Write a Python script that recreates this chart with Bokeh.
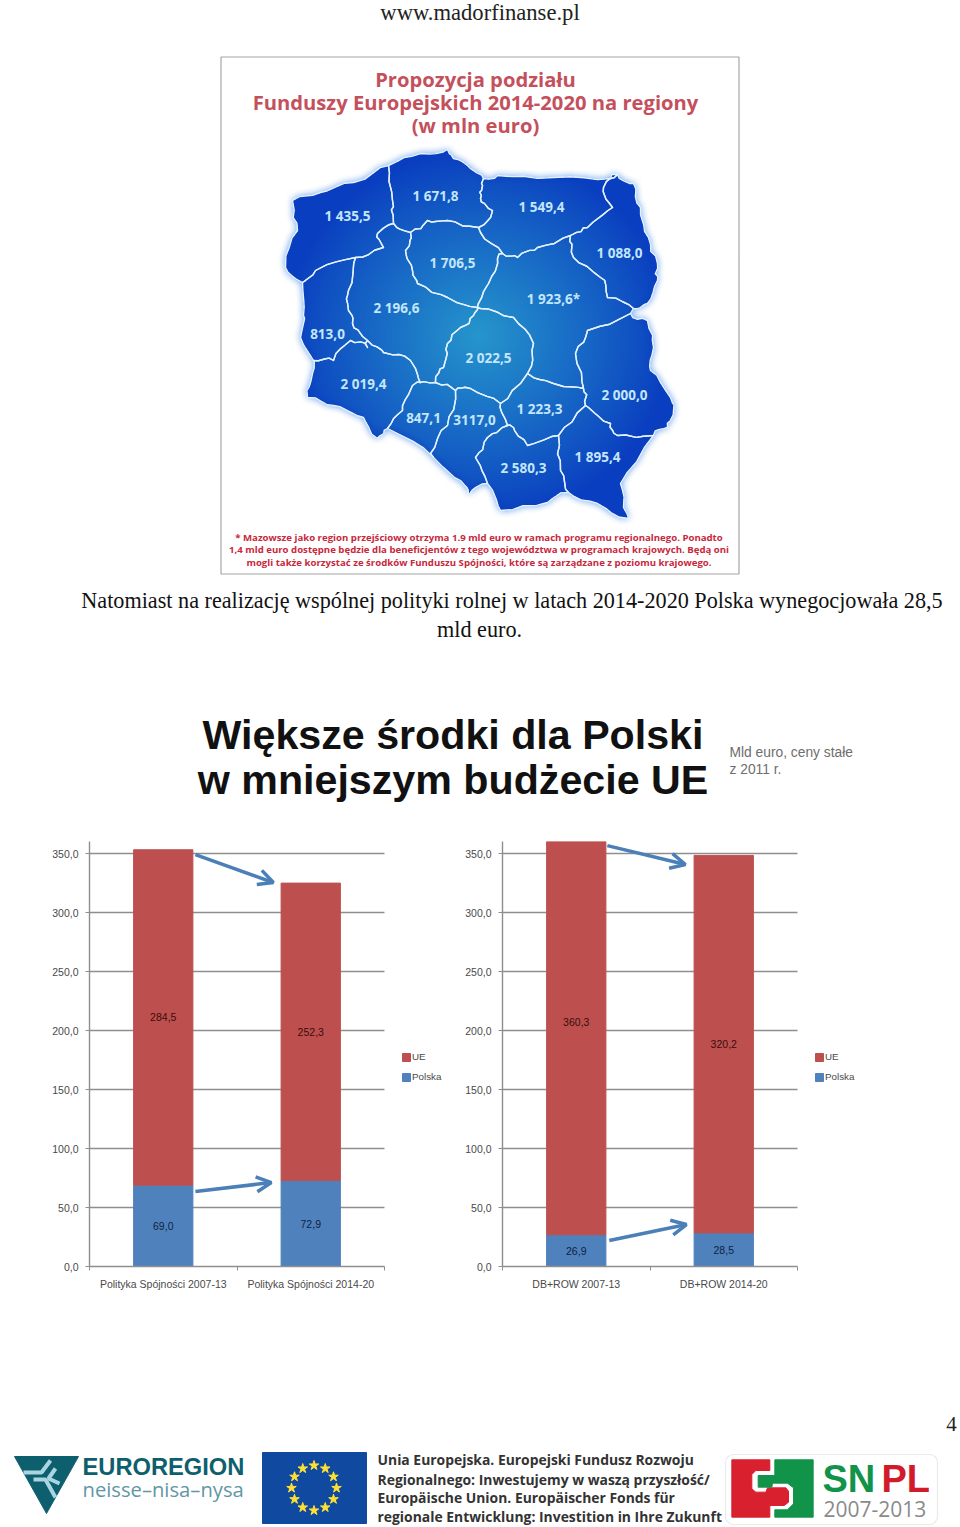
import numpy as np
from bokeh.plotting import figure
from bokeh.layouts import column, row
from bokeh.models import ColumnDataSource, FixedTicker, Legend, LegendItem, Arrow, OpenHead, BoxAnnotation
from bokeh.core.properties import value
from bokeh.embed import file_html
from bokeh.resources import INLINE

# ---- bar chart data ----
categories_a = ["Polityka Spójności 2007-13", "Polityka Spójności 2014-20"]
polska_a = [69.0, 72.9]
ue_a = [284.5, 252.3]
categories_b = ["DB+ROW 2007-13", "DB+ROW 2014-20"]
polska_b = [26.9, 28.5]
ue_b = [360.3, 320.2]
y_ticks = [0, 50, 100, 150, 200, 250, 300, 350]

# ---- map data (page pixels) ----
regions = {
 "zp": [(292,200),(320,192),(353,182),(388,165),(392,200),(393,223),(377,233),(383,247),(355,257),(315,270),(302,282),(285,267),(297,230)],
 "pm": [(388,165),(420,153),(447,149),(453,158),(467,165),(483,178),(481,190),(480,198),(492,210),(478,227),(447,220),(427,220),(410,232),(393,223),(392,200)],
 "wm": [(483,178),(497,175),(553,177),(610,178),(617,174),(603,187),(612,207),(587,227),(570,235),(537,247),(517,257),(502,253),(480,232),(478,227),(492,210),(480,198),(481,190)],
 "pd": [(617,174),(633,183),(640,207),(648,237),(657,263),(657,280),(647,303),(633,308),(607,297),(600,277),(573,257),(570,235),(587,227),(612,207),(603,187)],
 "kp": [(410,232),(427,220),(447,220),(478,227),(480,232),(502,253),(497,258),(488,283),(477,307),(447,297),(417,283),(412,270),(405,250)],
 "mz": [(502,253),(517,257),(537,247),(570,235),(573,257),(600,277),(607,297),(633,308),(630,313),(587,330),(575,353),(583,388),(553,383),(527,373),(533,343),(513,317),(480,308),(477,307),(488,283),(497,258)],
 "wp": [(393,223),(410,232),(405,250),(412,270),(417,283),(447,297),(477,307),(473,315),(460,327),(447,343),(443,367),(435,382),(420,382),(410,360),(383,352),(367,340),(352,323),(348,310),(348,290),(355,257),(383,247),(377,233)],
 "lb": [(302,282),(315,270),(355,257),(348,290),(348,310),(352,323),(367,340),(367,347),(350,340),(333,360),(313,360),(300,337),(303,315)],
 "ds": [(313,360),(333,360),(350,340),(367,347),(367,340),(383,352),(410,360),(420,382),(412,385),(402,410),(387,428),(377,438),(363,417),(333,405),(307,397),(312,373)],
 "op": [(412,385),(420,382),(435,382),(455,390),(447,425),(430,453),(433,457),(387,428),(402,410)],
 "sl": [(455,390),(470,388),(500,403),(507,425),(487,437),(475,457),(487,483),(468,495),(460,480),(433,457),(430,453),(447,425)],
 "lo": [(477,307),(480,308),(513,317),(533,343),(527,373),(500,403),(470,388),(455,390),(435,382),(443,367),(447,343),(460,327),(473,315)],
 "sk": [(527,373),(553,383),(583,388),(585,405),(558,435),(527,445),(513,427),(507,425),(500,403)],
 "lu": [(630,313),(647,320),(653,347),(650,370),(670,397),(673,410),(667,427),(653,435),(617,435),(610,423),(588,407),(585,405),(583,388),(575,353),(587,330)],
 "mp": [(507,425),(513,427),(527,445),(558,435),(560,470),(568,492),(547,502),(500,510),(487,483),(475,457),(487,437)],
 "pk": [(558,435),(585,405),(588,407),(610,423),(617,435),(653,435),(620,483),(623,507),(628,518),(597,503),(568,492),(560,470)],
}
map_labels = ["1 435,5","1 671,8","1 549,4","1 088,0","1 706,5","1 923,6*","2 196,6","813,0","2 019,4","847,1","3117,0","2 022,5","1 223,3","2 000,0","2 580,3","1 895,4"]
map_lx = [347,435,541,619,452,553,396,327,363,423,474,488,539,624,523,597]
map_ly = [215,195,206,252,262,298,307,333,383,417,419,357,408,394,467,456]
footnote = ["* Mazowsze jako region przejściowy otrzyma 1.9 mld euro w ramach programu regionalnego. Ponadto",
            "1,4 mld euro dostępne będzie dla beneficjentów z tego województwa w programach krajowych. Będą oni",
            "mogli także korzystać ze środków Funduszu Spójności, które są zarządzane z poziomu krajowego."]
map_title = ["Propozycja podziału", "Funduszy Europejskich 2014-2020 na regiony", "(w mln euro)"]
ue_text = ["Unia Europejska. Europejski Fundusz Rozwoju", "Regionalnego: Inwestujemy w waszą przyszłość/",
           "Europäische Union. Europäischer Fonds für", "regionale Entwicklung: Investition in Ihre Zukunft"]

SERIF = value("Liberation Serif")
SANS = value("Liberation Sans")
OPEN = value("Open Sans")

def canvas(y0, y1, width=960):
    p = figure(width=width, height=y1 - y0, x_range=(0, width), y_range=(y1, y0), output_backend="svg",
               toolbar_location=None, min_border=0, outline_line_color=None, background_fill_color="white",
               border_fill_color="white")
    p.axis.visible = False
    p.grid.visible = False
    return p

def txt(p, x, y, s, size, color="#000000", font=SERIF, style="normal", align="center", alpha=1.0):
    p.text([x], [y], text=[s], text_font=font, text_font_size=f"{size}px", text_color=color, text_font_style=style,
           text_align=align, text_baseline="middle", text_alpha=alpha)

def jag(a, b, d=2.2, lev=2):
    # decorative wiggle of a border; depends only on the position, so shared borders stay shared
    if lev == 0 or np.hypot(a[0]-b[0], a[1]-b[1]) < 6:
        return []
    mx, my = (a[0]+b[0])/2, (a[1]+b[1])/2
    m = (mx + d*np.sin(mx*12.9898+my*78.233), my + d*np.sin(mx*39.346+my*11.135))
    return jag(a, m, d*.7, lev-1) + [m] + jag(m, b, d*.7, lev-1)

def wiggle(pts):
    out = []
    for i, a in enumerate(pts):
        b = pts[(i+1) % len(pts)]
        seg = jag(a, b) if a < b else jag(b, a)[::-1]
        out += [a] + seg
    return out

def poly_mask(pts, X, Y):
    xs = np.array([a for a, _ in pts], float); ys = np.array([b for _, b in pts], float)
    m = np.zeros(X.shape, bool)
    for i in range(len(xs)):
        j = (i + 1) % len(xs)
        c = ((ys[i] > Y) != (ys[j] > Y))
        with np.errstate(divide="ignore", invalid="ignore"):
            xi = xs[i] + (Y - ys[i]) * (xs[j] - xs[i]) / (ys[j] - ys[i])
        m ^= c & (X < xi)
    return m

def blur(a, r, n=3):
    for _ in range(n):
        k = np.ones(2 * r + 1) / (2 * r + 1)
        a = np.apply_along_axis(lambda v: np.convolve(v, k, mode="same"), 0, a)
        a = np.apply_along_axis(lambda v: np.convolve(v, k, mode="same"), 1, a)
    return a

# ---- top part ----
top = canvas(0, 835)
txt(top, 479.5, 11.5, "www.madorfinanse.pl", 22.6, "#222222")
top.quad(left=[220.5], right=[738.5], top=[56.5], bottom=[573.5], fill_color="white", line_color="#a6a6a6", line_width=1.2)
for i, s in enumerate(map_title):
    txt(top, 475, [78, 101, 124][i], s, 20.2, "#c4505c", OPEN, "bold")
for i, s in enumerate(footnote):
    txt(top, 478.5, [536.5, 549, 561.5][i], s, 9.65, "#c8283c", OPEN, "bold")

wig = {k: wiggle(v) for k, v in regions.items()}
x0, y0, W, H = 262, 130, 430, 410
X, Y = np.meshgrid(np.arange(W) + x0 + .5, np.arange(H) + y0 + .5)
mask = np.zeros(X.shape, bool)
for pts in wig.values():
    mask |= poly_mask(pts, X, Y)
d = np.sqrt((X - 478) ** 2 + ((Y - 335) * 1.05) ** 2)
t = np.clip(1 - d / 195, 0, 1) ** 0.95
inner = blur(mask.astype(float), 8, 2)
t = t * np.clip(inner * 1.2, 0, 1)
R = 10 + 28 * t
G = 62 + 88 * t
B = 192 + 12 * t
glow = blur(mask.astype(float), 4, 2)
alpha = np.where(mask, 1.0, np.clip(glow * 1.6, 0, 1) * .75)
R = np.where(mask, R, 110); G = np.where(mask, G, 165); B = np.where(mask, B, 235)
img = np.zeros((H, W), dtype=np.uint32)
v = img.view(dtype=np.uint8).reshape((H, W, 4))
v[..., 0] = R; v[..., 1] = G; v[..., 2] = B; v[..., 3] = (alpha * 255).astype(np.uint8)
top.image_rgba(image=[img], x=[x0], y=[y0], dw=[W], dh=[H])
top.patches([[a for a, _ in r] for r in wig.values()], [[b for _, b in r] for r in wig.values()],
            fill_color=None, line_color="#e4f1ff", line_width=1.4, line_join="round")
top.text(map_lx, map_ly, text=map_labels, text_font=OPEN, text_font_size="13.5px", text_font_style="bold", text_color="#c4e6fb",
         text_align="center", text_baseline="middle")

txt(top, 511.5, 600, "Natomiast na realizację wspólnej polityki rolnej w latach 2014-2020 Polska wynegocjowała 28,5", 22.2, "#111111")
txt(top, 479, 629, "mld euro.", 22.2, "#111111")
txt(top, 452.5, 734, "Większe środki dla Polski", 41.2, "#111111", SANS, "bold")
txt(top, 452.5, 779, "w mniejszym budżecie UE", 41.2, "#111111", SANS, "bold")
txt(top, 729, 752, "Mld euro, ceny stałe", 13.8, "#6e6e6e", SANS, align="left")
txt(top, 729, 769, "z 2011 r.", 13.8, "#6e6e6e", SANS, align="left")

# ---- charts ----
def chart(cats, polska, ue, left, right_edge, arrows):
    mids = [0.5, 1.5]
    src = ColumnDataSource(dict(x=mids, Polska=polska, UE=ue))
    fw = right_edge - left
    p = figure(frame_width=fw, frame_height=425, x_range=(0, 2 * fw / 295), y_range=(0, 360.5),
               output_backend="svg", toolbar_location=None, min_border_left=left, min_border_right=0,
               min_border_top=6, min_border_bottom=34, outline_line_color=None, border_fill_color="white")
    r = p.vbar_stack(["Polska", "UE"], x="x", width=0.402, color=["#4f81bd", "#bd504f"], source=src)
    p.xgrid.visible = False
    p.ygrid.ticker = FixedTicker(ticks=y_ticks[1:])
    p.ygrid.grid_line_color = "#8e8e8e"
    p.ygrid.grid_line_width = 1.4
    p.ygrid.cross_bounds = (0, 2)
    p.xaxis.bounds = (0, 2)
    p.yaxis.ticker = FixedTicker(ticks=y_ticks)
    p.yaxis.major_label_overrides = {t: f"{t},0" for t in y_ticks}
    p.xaxis.ticker = FixedTicker(ticks=mids, minor_ticks=[0, 1, 2])
    p.xaxis.major_label_overrides = {m: c for m, c in zip(mids, cats)}
    p.xaxis.major_tick_line_color = None
    p.xaxis.minor_tick_line_color = "#8e8e8e"
    p.xaxis.minor_tick_out = 4; p.xaxis.minor_tick_in = 0
    p.xaxis.major_label_standoff = 5
    p.yaxis.major_tick_in = 0; p.yaxis.major_tick_out = 4; p.yaxis.minor_tick_line_color = None
    p.yaxis.major_tick_line_color = "#8e8e8e"
    p.axis.axis_line_color = "#8e8e8e"; p.axis.axis_line_width = 1.4
    p.yaxis.major_label_standoff = 7
    p.axis.major_label_text_font = "Liberation Sans"
    p.axis.major_label_text_font_size = "10.5px"
    p.axis.major_label_text_color = "#4a4a4a"
    base = [a / 2 for a in polska]
    upper = [a + b / 2 for a, b in zip(polska, ue)]
    fmt = lambda q: [f"{a:.1f}".replace(".", ",") for a in q]
    p.text(mids, base, text=fmt(polska), text_font=SANS, text_font_size="10.5px", text_color="#10233f", text_align="center", text_baseline="middle")
    p.text(mids, upper, text=fmt(ue), text_font=SANS, text_font_size="10.5px", text_color="#3a0d0c", text_align="center", text_baseline="middle")
    for (xa, ya, xb, yb) in arrows:
        p.add_layout(Arrow(end=OpenHead(size=15, line_color="#4a7fb8", line_width=3.5), x_start=xa, y_start=ya, x_end=xb, y_end=yb,
                           line_color="#4a7fb8", line_width=3.5))
    leg = Legend(items=[LegendItem(label="UE", renderers=[r[1]]), LegendItem(label="Polska", renderers=[r[0]])],
                 location=(312, 184), orientation="vertical", background_fill_alpha=0, border_line_color=None,
                 margin=0, padding=0, spacing=9, glyph_width=10, glyph_height=10, label_height=10, label_standoff=1,
                 label_text_font="Liberation Sans", label_text_font_size="9.8px", label_text_color="#4a4a4a")
    p.add_layout(leg)
    return p

c1 = chart(categories_a, polska_a, ue_a, 89, 450, [(0.718, 349.4, 1.247, 325.7), (0.718, 63.6, 1.233, 71.2)])
c2 = chart(categories_b, polska_b, ue_b, 52, 510, [(0.711, 357, 1.24, 341), (0.724, 22, 1.247, 35.6)])

# ---- bottom ----
bot = canvas(1300, 1527)
txt(bot, 951, 1423, "4", 21, "#222222")
bot.patch([14, 78, 46], [1456, 1456, 1513], color="#0e5f6e")
bot.multi_line([[23, 41, 50], [33, 45, 55], [55, 48, 59]], [[1472, 1472, 1460], [1479, 1479, 1497], [1468, 1478, 1483]],
               line_color="#a9d5e0", line_width=4)
txt(bot, 82, 1466, "EUROREGION", 23.7, "#0e5f6e", SANS, "bold", "left")
txt(bot, 82, 1488, "neisse–nisa–nysa", 20.2, "#5f97a5", OPEN, align="left")
bot.quad(left=[262], right=[366], top=[1452], bottom=[1523], color="#0f4aa0")
ang = np.arange(12) * np.pi / 6
bot.scatter(313.5 + 22.5 * np.cos(ang), 1487.5 + 22.5 * np.sin(ang), marker="star", size=10, color="#ffe033")
for i, s in enumerate(ue_text):
    txt(bot, 377, [1459, 1478.5, 1497, 1516][i], s, 13.9, "#333333", OPEN, "bold", "left")
bot.add_layout(BoxAnnotation(left=725, right=937, top=1454, bottom=1524, border_radius=8, fill_alpha=0, line_color="#b8b8b8", line_width=1.2))
red = [(28,28),(142,28),(142,60),(100,60),(88,72),(88,115),(100,125),(130,125),(135,112),(190,112),(198,122),(198,155),(185,165),(142,165),(142,200),(28,200)]
green = [(157,28),(272,28),(272,200),(157,200),(157,178),(195,178),(213,160),(213,112),(195,98),(150,98),(148,110),(107,110),(107,75),(157,75)]
bot.patch([722 + a / 3 for a, _ in red], [1450 + b / 3 for _, b in red], color="#d8202f")
bot.patch([722 + a / 3 for a, _ in green], [1450 + b / 3 for _, b in green], color="#11934a")
txt(bot, 822, 1478, "SN", 38, "#11934a", SANS, "bold", "left")
txt(bot, 881, 1478, "PL", 38, "#d11a2a", SANS, "bold", "left")
txt(bot, 823, 1508, "2007-2013", 21, "#8a8a8a", OPEN, align="left")

root = column(top, row(c1, c2, spacing=0), bot, spacing=0, margin=0)
open("out.html", "w").write(file_html(root, INLINE))
